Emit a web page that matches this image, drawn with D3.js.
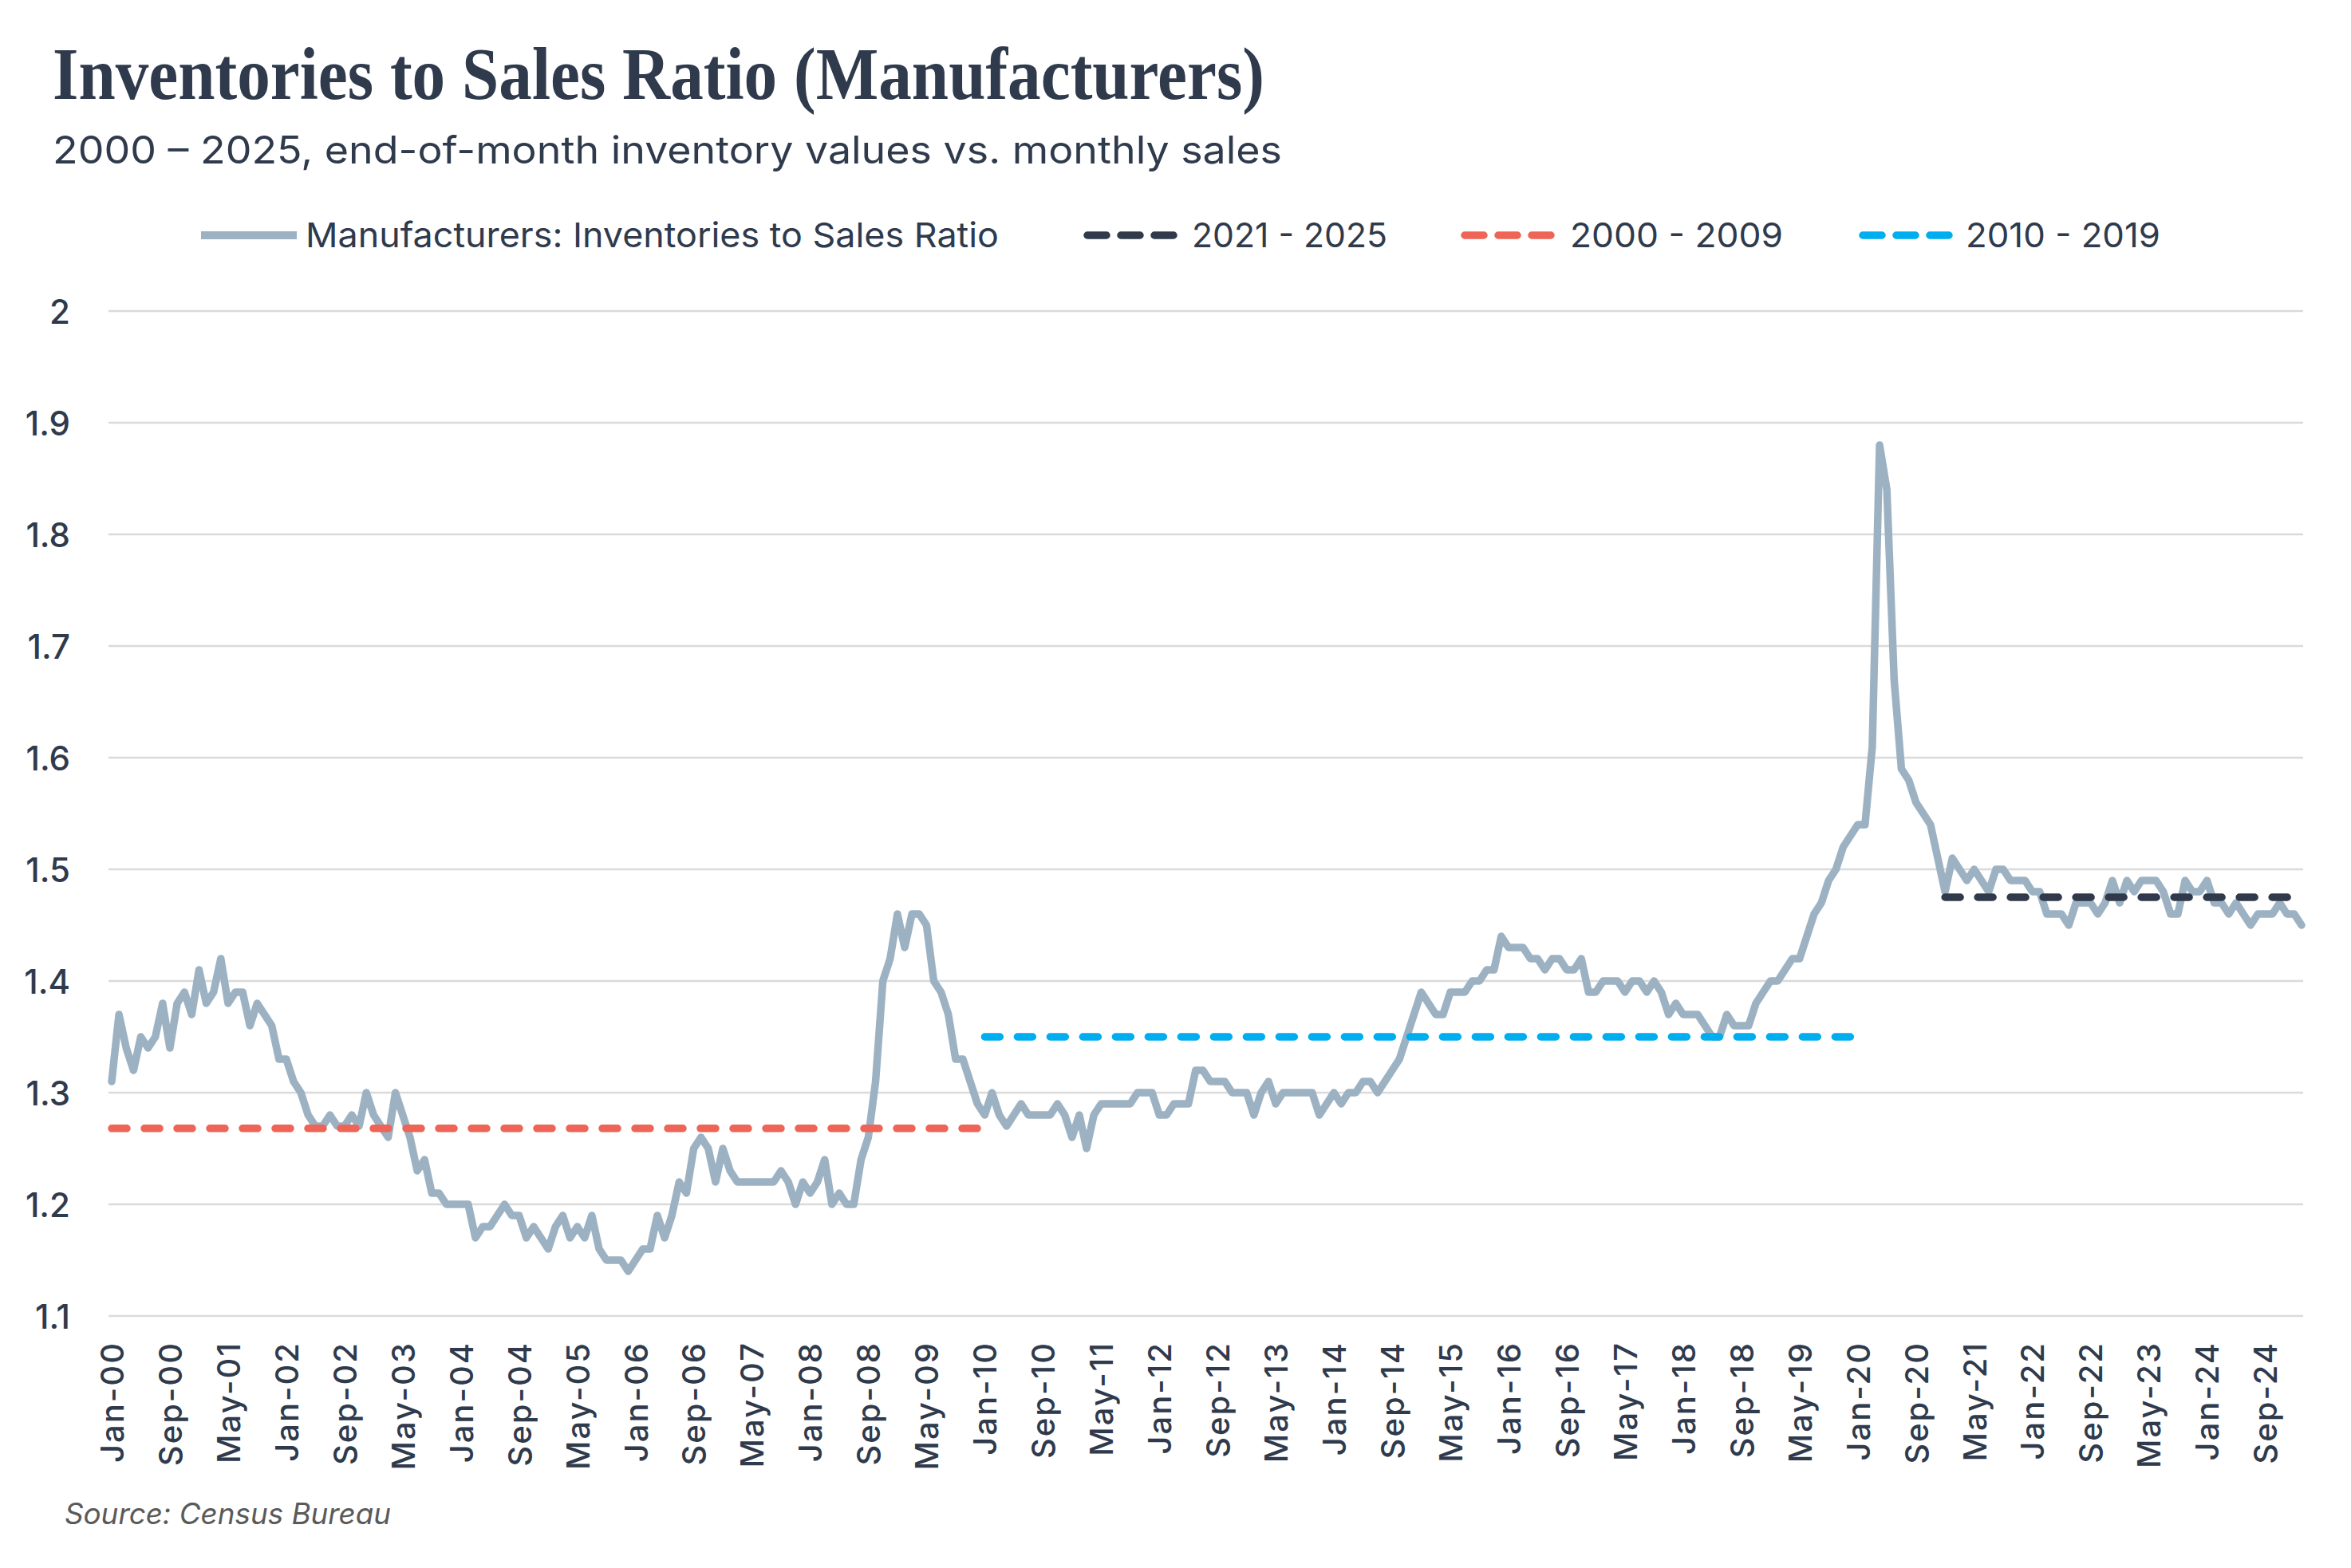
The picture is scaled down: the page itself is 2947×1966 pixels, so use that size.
<!DOCTYPE html>
<html><head><meta charset="utf-8">
<script src="https://cdn.jsdelivr.net/npm/d3@7"></script>
<style>body{margin:0;background:#fff} svg{display:block}</style>
</head><body>
<svg id="chart" width="2947" height="1966"></svg>
<script>
// ---------------- DATA ----------------
// Monthly inventories-to-sales ratio, Jan-00 .. Feb-25
const ratio = [
// 2000
1.31,1.37,1.34,1.32,1.35,1.34,1.35,1.38,1.34,1.38,1.39,1.37,
// 2001
1.41,1.38,1.39,1.42,1.38,1.39,1.39,1.36,1.38,1.37,1.36,1.33,
// 2002
1.33,1.31,1.30,1.28,1.27,1.27,1.28,1.27,1.27,1.28,1.27,1.30,
// 2003
1.28,1.27,1.26,1.30,1.28,1.26,1.23,1.24,1.21,1.21,1.20,1.20,
// 2004
1.20,1.20,1.17,1.18,1.18,1.19,1.20,1.19,1.19,1.17,1.18,1.17,
// 2005
1.16,1.18,1.19,1.17,1.18,1.17,1.19,1.16,1.15,1.15,1.15,1.14,
// 2006
1.15,1.16,1.16,1.19,1.17,1.19,1.22,1.21,1.25,1.26,1.25,1.22,
// 2007
1.25,1.23,1.22,1.22,1.22,1.22,1.22,1.22,1.23,1.22,1.20,1.22,
// 2008
1.21,1.22,1.24,1.20,1.21,1.20,1.20,1.24,1.26,1.31,1.40,1.42,
// 2009
1.46,1.43,1.46,1.46,1.45,1.40,1.39,1.37,1.33,1.33,1.31,1.29,
// 2010
1.28,1.30,1.28,1.27,1.28,1.29,1.28,1.28,1.28,1.28,1.29,1.28,
// 2011
1.26,1.28,1.25,1.28,1.29,1.29,1.29,1.29,1.29,1.30,1.30,1.30,
// 2012
1.28,1.28,1.29,1.29,1.29,1.32,1.32,1.31,1.31,1.31,1.30,1.30,
// 2013
1.30,1.28,1.30,1.31,1.29,1.30,1.30,1.30,1.30,1.30,1.28,1.29,
// 2014
1.30,1.29,1.30,1.30,1.31,1.31,1.30,1.31,1.32,1.33,1.35,1.37,
// 2015
1.39,1.38,1.37,1.37,1.39,1.39,1.39,1.40,1.40,1.41,1.41,1.44,
// 2016
1.43,1.43,1.43,1.42,1.42,1.41,1.42,1.42,1.41,1.41,1.42,1.39,
// 2017
1.39,1.40,1.40,1.40,1.39,1.40,1.40,1.39,1.40,1.39,1.37,1.38,
// 2018
1.37,1.37,1.37,1.36,1.35,1.35,1.37,1.36,1.36,1.36,1.38,1.39,
// 2019
1.40,1.40,1.41,1.42,1.42,1.44,1.46,1.47,1.49,1.50,1.52,1.53,
// 2020
1.54,1.54,1.61,1.88,1.84,1.67,1.59,1.58,1.56,1.55,1.54,1.51,
// 2021
1.48,1.51,1.50,1.49,1.50,1.49,1.48,1.50,1.50,1.49,1.49,1.49,
// 2022
1.48,1.48,1.46,1.46,1.46,1.45,1.47,1.47,1.47,1.46,1.47,1.49,
// 2023
1.47,1.49,1.48,1.49,1.49,1.49,1.48,1.46,1.46,1.49,1.48,1.48,
// 2024
1.49,1.47,1.47,1.46,1.47,1.46,1.45,1.46,1.46,1.46,1.47,1.46,
// 2025
1.46,1.45
];

// Month categories Jan-00 .. Feb-25
const months = d3.timeMonth.range(new Date(2000, 0, 1), new Date(2025, 2, 1))
  .map(d3.timeFormat("%b-%y"));

const tickLabels = [
  "Jan-00","Sep-00","May-01","Jan-02","Sep-02","May-03","Jan-04","Sep-04","May-05",
  "Jan-06","Sep-06","May-07","Jan-08","Sep-08","May-09","Jan-10","Sep-10","May-11",
  "Jan-12","Sep-12","May-13","Jan-14","Sep-14","May-15","Jan-16","Sep-16","May-17",
  "Jan-18","Sep-18","May-19","Jan-20","Sep-20","May-21","Jan-22","Sep-22","May-23",
  "Jan-24","Sep-24"
];

const yTicks = [1.1, 1.2, 1.3, 1.4, 1.5, 1.6, 1.7, 1.8, 1.9, 2];

// Period averages (dashed reference lines)
const periodNames  = ["2021 - 2025", "2000 - 2009", "2010 - 2019"];
const periodFrom   = ["Jan-21", "Jan-00", "Jan-10"];
const periodTo     = ["Feb-25", "Dec-09", "Dec-19"];
const periodValues = [1.475, 1.268, 1.35];

const seriesName = "Manufacturers: Inventories to Sales Ratio";

// ---------------- STYLE ----------------
const C = {
  text: "#2f3a4c",
  line: "#9cb2c3",
  grid: "#dadada",
  periods: ["#303a4b", "#ee6557", "#00aeef"],
  source: "#5a5a5a"
};
const sans = "Inter, 'Liberation Sans', Arial, sans-serif";

const W = 2947, H = 1966;
const M = {left: 136, right: 2887, top: 390, bottom: 1650};

const svg = d3.select("#chart");
svg.append("rect").attr("width", W).attr("height", H).attr("fill", "#fff");

const x = d3.scalePoint().domain(months).range([140, 2885]);
const y = d3.scaleLinear().domain([1.1, 2]).range([M.bottom, M.top]);

// Title / subtitle
svg.append("text")
  .attr("x", 66).attr("y", 124)
  .attr("font-family", "'Liberation Serif', 'DejaVu Serif', serif")
  .attr("font-weight", "bold")
  .attr("font-size", 94)
  .attr("fill", C.text)
  .attr("textLength", 1519).attr("lengthAdjust", "spacingAndGlyphs")
  .text("Inventories to Sales Ratio (Manufacturers)");

svg.append("text")
  .attr("x", 66).attr("y", 205)
  .attr("font-family", sans)
  .attr("font-size", 48)
  .attr("fill", C.text)
  .attr("textLength", 1541).attr("lengthAdjust", "spacingAndGlyphs")
  .text("2000 \u2013 2025, end-of-month inventory values vs. monthly sales");

// Gridlines
svg.append("g").selectAll("line").data(yTicks).join("line")
  .attr("x1", M.left).attr("x2", M.right)
  .attr("y1", d => y(d)).attr("y2", d => y(d))
  .attr("stroke", C.grid).attr("stroke-width", 2.5);

// Y axis
const yAxis = svg.append("g").attr("transform", `translate(88,0)`)
  .call(d3.axisLeft(y).tickValues(yTicks).tickSize(0).tickPadding(0).tickFormat(d => String(d)));
yAxis.select(".domain").remove();
yAxis.selectAll("text")
  .attr("font-family", sans).attr("font-size", 42).attr("font-weight", 500)
  .attr("fill", C.text).attr("dy", "0.36em");

// X axis
const xAxis = svg.append("g").attr("transform", `translate(0,${M.bottom})`)
  .call(d3.axisBottom(x).tickValues(tickLabels).tickSize(0).tickPadding(0));
xAxis.select(".domain").remove();
xAxis.selectAll("text")
  .attr("font-family", sans).attr("font-size", 40).attr("font-weight", 500)
  .attr("letter-spacing", 2)
  .attr("fill", C.text)
  .attr("transform", "rotate(-90)")
  .attr("text-anchor", "end")
  .attr("x", -32).attr("y", 0).attr("dy", "0.36em");

// Main series
const line = d3.line().x((d, i) => x(months[i])).y(d => y(d));
svg.append("path").datum(ratio)
  .attr("d", line)
  .attr("fill", "none").attr("stroke", C.line).attr("stroke-width", 9.5)
  .attr("stroke-linejoin", "round").attr("stroke-linecap", "round");

// Period average dashed lines
periodNames.forEach((n, k) => {
  svg.append("line")
    .attr("x1", x(periodFrom[k])).attr("x2", x(periodTo[k]))
    .attr("y1", y(periodValues[k])).attr("y2", y(periodValues[k]))
    .attr("stroke", C.periods[k]).attr("stroke-width", 9.5)
    .attr("stroke-linecap", "round").attr("stroke-dasharray", "19 22");
});

// Legend
const ly = 295;
const lg = svg.append("g");
const legendItems = [
  {x0: 252, x1: 372, tx: 383, tw: 869, label: seriesName, color: C.line, dash: null},
  {x0: 1363, x1: 1477, tx: 1494, tw: 245, label: periodNames[0], color: C.periods[0], dash: "24 18"},
  {x0: 1836, x1: 1950, tx: 1968, tw: 267, label: periodNames[1], color: C.periods[1], dash: "24 18"},
  {x0: 2335, x1: 2449, tx: 2464, tw: 244, label: periodNames[2], color: C.periods[2], dash: "24 18"}
];
legendItems.forEach(it => {
  lg.append("line").attr("x1", it.x0).attr("x2", it.x1).attr("y1", ly).attr("y2", ly)
    .attr("stroke", it.color).attr("stroke-width", it.dash ? 9.5 : 10)
    .attr("stroke-linecap", it.dash ? "round" : "butt")
    .attr("stroke-dasharray", it.dash);
  lg.append("text").attr("x", it.tx).attr("y", ly).attr("dy", "0.36em")
    .attr("font-family", sans).attr("font-size", 43).attr("fill", C.text)
    .attr("textLength", it.tw).attr("lengthAdjust", "spacingAndGlyphs")
    .text(it.label);
});

// Source
svg.append("text").attr("x", 81).attr("y", 1911)
  .attr("font-family", sans).attr("font-style", "italic").attr("font-size", 37)
  .attr("fill", C.source)
  .attr("textLength", 409).attr("lengthAdjust", "spacingAndGlyphs")
  .text("Source: Census Bureau");
</script>
</body></html>
